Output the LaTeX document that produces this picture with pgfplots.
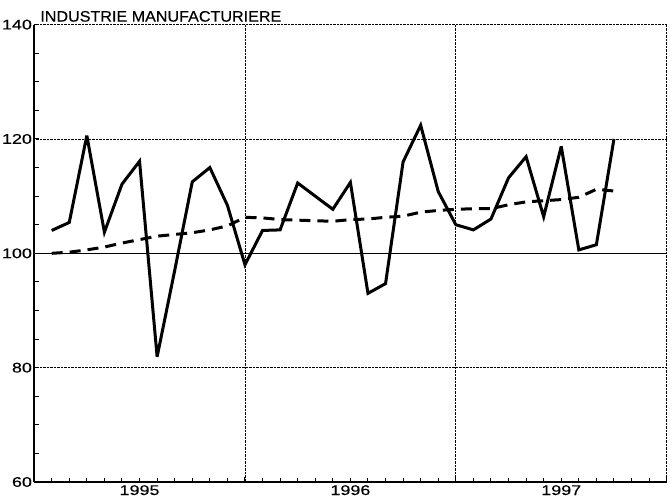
\documentclass[border=0pt]{standalone}
\usepackage{fontspec}
\setmainfont{Liberation Sans}[FakeStretch=1.06, FakeBold=0.3]
\newfontfamily\tickfont{Liberation Sans}[FakeStretch=1.28, FakeBold=0.3]
\usepackage{pgfplots}
\usepackage{pgfplotstable}
\pgfplotsset{compat=1.18}

% month index (1 = end of Jan 1995), index value, trend
\pgfplotstableread{
m  val    trend
1  104.0  100.0
2  105.4  100.2
3  120.6  100.6
4  103.7  101.1
5  112.1  101.8
6  116.1  102.4
7  81.9   103.0
8  97.0   103.3
9  112.5  103.6
10 115.0  104.1
11 108.4  104.8
12 98.0   106.3
13 104.0  106.2
14 104.1  105.9
15 112.3  105.8
16 110.0  105.7
17 107.7  105.6
18 112.4  105.9
19 93.0   106.0
20 94.7   106.3
21 116.0  106.5
22 122.4  107.2
23 110.8  107.5
24 105.0  107.7
25 104.1  107.8
26 106.0  107.8
27 113.2  108.5
28 116.9  109.0
29 106.4  109.2
30 118.7  109.4
31 100.6  109.8
32 101.5  111.2
33 120.0  110.9
}\datatable

\begin{document}
\begin{tikzpicture}
\begin{axis}[
    scale only axis,
    width=632pt, height=457pt,
    xmin=0, xmax=36, ymin=60, ymax=140,
    axis x line*=bottom, axis y line*=left,
    axis line style={line width=1.5pt, -},
    ytick={60,80,120,140},
    minor ytick={65,70,75,85,90,95,105,110,115,125,130,135},
    extra y ticks={100},
    extra y tick style={major grid style={solid, black, line width=1.5pt}},
    xtick={12,24,36}, xticklabels={},
    minor xtick={1,...,35},
    extra x ticks={6,18,30}, extra x tick labels={1995,1996,1997},
    extra x tick style={major tick length=0pt, grid=none},
    ymajorgrids, xmajorgrids,
    major grid style={densely dotted, line width=0.8pt, black},
    tick align=inside,
    major tick length=5pt, minor tick length=4.5pt,
    tick style={black, line width=1pt},
    ticklabel style={font=\tickfont\fontsize{14}{14}\selectfont},
    yticklabel style={inner xsep=2pt},
    xticklabel style={inner ysep=3pt},
    /pgf/number format/assume math mode=true,
    clip=false,
]
\addplot[black, line width=3pt, line join=miter, miter limit=4] table[x=m, y=val] {\datatable};
\addplot[black, line width=3pt, dash pattern=on 11pt off 7pt] table[x=m, y=trend] {\datatable};
\node[anchor=base west, font=\fontsize{15.2}{15.2}\selectfont, inner sep=0pt]
    at (rel axis cs:0,1) [xshift=6pt, yshift=3pt] {INDUSTRIE MANUFACTURIERE};
\end{axis}
\path ([yshift=11pt]current bounding box.north) -- ++(0,0);
\end{tikzpicture}
\end{document}
